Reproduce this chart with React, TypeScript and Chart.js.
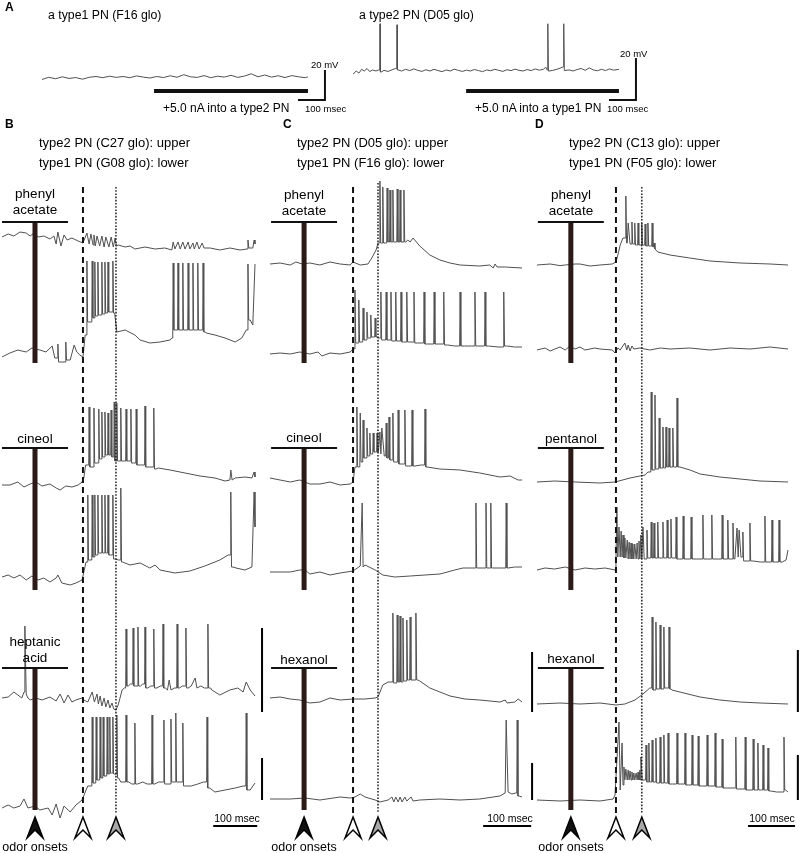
import React, { useEffect, useRef } from "react";
import { Chart, registerables } from "chart.js";

Chart.register(...registerables);

type Pt = [number, number];

// ===== DATA: time (ms from trace start), membrane potential (mV, relative to resting level) =====

// Panel A
const A_TYPE1_F16: Pt[] = [[0,-1],[25,0.5],[50,-0.5],[75,0.8],[100,-0.3],[125,0.3],[150,-0.8],[175,0.5],[200,1],[225,0.2],[250,1.2],[275,0.4],[300,1],[325,0.2],[350,1.4],[375,0.6],[400,0],[425,1],[450,0.3],[475,1.5],[500,0.5],[525,2.2],[550,0.8],[575,0.4],[600,1.6],[625,0.2],[650,1.2],[675,0.6],[700,1.8],[725,0.4],[750,1.3],[775,2.8],[800,0.8],[825,2],[850,0.6],[875,1.5],[900,0.3],[925,1.6],[950,0.8],[975,0.2],[985,0.8]];
const A_TYPE2_D05: Pt[] = [[0,-1.5],[12,0],[22,-1],[32,0.8],[42,0],[52,1.2],[62,-0.3],[72,0.5],[85,0],[95,0.5],[100,22.5],[104,-0.5],[115,0.3],[130,-0.2],[145,0.6],[158,1.2],[163,22],[167,0.5],[180,0],[195,0.8],[210,0.2],[225,1],[240,0.3],[255,-0.2],[270,0.6],[285,0],[300,0.8],[315,0.2],[330,-0.3],[345,0.5],[360,0],[375,0.9],[390,0.3],[405,-0.2],[420,0.4],[435,0],[450,0.7],[465,0.2],[480,-0.3],[495,0.5],[510,0.1],[525,0.8],[540,0.3],[555,-0.2],[570,0.6],[585,0.2],[600,0.9],[615,0.3],[630,0],[645,0.7],[660,0.2],[675,1],[690,0.4],[705,0.8],[714,1.8],[719,0.5],[722,22.5],[726,0],[740,0.3],[755,0.8],[770,1.5],[778,2],[781,22.5],[785,0.2],[800,0.5],[815,0],[830,0.7],[845,1.2],[860,0.3],[875,1.5],[890,0.5],[905,0.1],[920,0.8],[935,0.2],[950,1],[965,0.4],[985,0.8]];
const A_CURRENT_MS: Pt[] = [[415, 985], [419, 985]];

// Panel B: type2 PN (C27) upper, type1 PN (G08) lower
const B_PHENYL_UP: Pt[] = [[0,1.5],[14,3],[27,2],[41,4],[55,3.5],[64,2],[73,3.5],[82,1.5],[95,2],[109,0.5],[118,2],[123,-2],[127,4],[134,-3],[141,2.5],[148,0],[159,1],[173,-0.5],[184,-1.5],[193,3.5],[198,-2],[202,3],[207,-2.5],[209,2.5],[212,-3],[216,2],[222,-3],[227,2],[232,-3.5],[236,1.5],[243,-3.5],[248,1.5],[253,-3.5],[257,1],[260,-3],[264,-2.5],[280,-3.5],[291,-3],[302,-4.5],[325,-3.5],[348,-4.5],[370,-4],[386,-5],[389,-1],[393,-4.5],[400,-1],[405,-4.5],[411,-1],[416,-4.5],[423,-1],[427,-4.5],[434,-1.5],[437,-4.5],[443,-1],[448,-4.5],[455,-1.5],[459,-4],[473,-4],[495,-5],[518,-4],[541,-5],[557,-4.5],[559,0],[561,-4],[570,-4],[573,0],[575,-2]];
const B_PHENYL_LOW: Pt[] = [[0,-3.5],[18,-1.5],[36,0],[55,-1],[68,1],[86,0],[100,-1],[114,2],[120,-4],[127,3],[136,-6],[145,4],[155,-5],[164,2.5],[170,-1],[177,-2.5],[184,-3.5],[189,7.5],[193,44.5],[197,14],[205,44.5],[208,16],[211,44],[214,17],[218,44],[222,17.5],[227,44],[230,18],[234,44],[237,18.5],[241,44],[246,19],[252,44.5],[256,18.5],[261,9],[280,10],[302,7.5],[314,5],[336,3.5],[359,4],[382,5],[386,6],[389,43.5],[394,10],[400,43.5],[405,10],[411,43.5],[417,10],[423,43.5],[428,10],[434,43.5],[440,10],[445,43.5],[451,10],[457,43.5],[462,9],[464,8.5],[484,7.5],[507,6],[530,4],[545,6],[555,10],[559,43],[564,15],[570,12.5],[575,43]];
const B_CINEOL_UP: Pt[] = [[0,0],[18,0],[36,1.5],[50,-1],[64,0.5],[77,1.5],[91,-0.5],[109,0.5],[123,-1.5],[132,-2.5],[145,-0.5],[159,-1],[173,0],[182,1.5],[186,3.5],[190,10],[198,39],[203,9],[209,38.5],[214,11],[220,38],[224,13],[227,36.5],[230,14],[234,36.5],[237,15],[241,36],[244,15],[248,37.5],[251,14],[255,41.5],[258,12],[261,41],[265,12],[270,38.5],[276,12],[282,38],[287,12],[293,38],[299,11],[305,38],[315,10],[325,39.5],[335,9],[345,38.5],[350,8],[355,8.5],[382,7.5],[416,6],[450,4.5],[484,3.5],[507,2],[518,2.5],[520,7.5],[523,2.5],[530,3.5],[552,4],[568,3.5],[573,6.5],[575,4]];
const B_CINEOL_LOW: Pt[] = [[0,0],[14,1],[27,-0.5],[41,1],[55,-1.5],[68,0.5],[82,-1.5],[95,-0.5],[109,-2.5],[123,-0.5],[127,1],[136,-3],[155,-4],[168,-3],[182,-1.5],[186,2.5],[191,7.5],[195,41],[200,8.5],[205,41],[208,10],[211,41],[214,11],[218,41],[222,12],[227,41],[230,12],[234,41],[237,12],[241,41],[246,11],[252,41],[258,9],[265,8.5],[270,44.5],[274,7.5],[291,6],[314,7],[336,4.5],[348,6],[359,3.5],[393,2],[427,3],[461,5.5],[495,8.5],[514,11],[520,42.5],[525,5],[532,4.5],[552,3.5],[568,5],[573,42.5],[575,25]];
const B_HEPTANIC_UP: Pt[] = [[0,0],[14,0.5],[27,3],[36,1.5],[45,0],[50,3],[52,36],[55,2],[59,0],[64,-1],[77,0],[91,-1],[109,0.5],[123,-1.5],[132,2],[141,-2.5],[150,1.5],[159,-2],[168,-1],[182,0],[186,-1],[195,-2],[205,3],[210,-2],[216,2],[219,-3],[223,1],[227,-4],[232,0],[236,-4.5],[241,-1],[245,-5],[250,-2.5],[254,-5.5],[259,-6],[264,-3.5],[273,4],[278,5],[282,34.5],[287,6],[292,7],[298,35],[303,6],[309,35.5],[315,6],[320,7],[325,35.5],[331,5],[338,6],[345,34.5],[352,5],[360,6],[366,37],[371,5],[376,4],[380,9],[384,4],[392,5],[398,37],[403,5],[410,6],[418,35],[423,5],[430,6],[439,10],[443,5],[452,6],[460,5],[468,37],[474,5],[477,4],[495,1.5],[518,4],[536,5],[548,3],[555,8],[564,4],[575,1]];
const B_HEPTANIC_LOW: Pt[] = [[0,-1],[14,0.5],[27,-1],[41,0],[50,3.5],[59,-1],[75,0],[86,-2],[105,-1],[114,-4.5],[123,1],[132,-6],[141,0],[155,-3],[168,0.5],[182,3],[191,8],[195,10],[205,44.5],[209,11.5],[214,44.5],[218,13],[223,44.5],[226,14],[230,44.5],[234,15],[239,44.5],[242,16],[245,44.5],[249,16.5],[252,44.5],[256,16],[261,45.5],[265,14],[270,12],[282,45.5],[288,12],[295,11],[302,41.5],[308,11],[320,12],[330,11],[341,45.5],[347,11],[356,12],[368,43],[374,11],[384,43.5],[388,12],[395,46.5],[400,12],[411,41.5],[417,10],[430,10],[445,11],[458,12],[466,44.5],[472,9],[484,7],[507,8],[530,9],[548,10],[555,46.5],[560,8],[564,8],[575,11.5]];

// Panel C: type2 PN (D05) upper, type1 PN (F16) lower
const C_PHENYL_UP: Pt[] = [[0,0],[21,0.5],[42,-0.5],[54,1],[67,0],[83,0.5],[104,-0.5],[125,1],[146,0],[167,-0.5],[173,1],[188,-0.5],[204,0],[212,3],[221,7],[225,10.5],[229,41.5],[232,10.5],[235,38.5],[240,10.5],[244,38],[247,11],[250,37],[253,11],[256,37],[260,11],[265,37.5],[268,11],[271,37],[275,11],[279,37],[283,11],[287,12],[292,11],[298,13],[312,9],[333,4.5],[354,2],[375,0.5],[396,-0.5],[437,-1],[458,-0.5],[465,-2],[469,0],[473,-1.5],[490,-1.5],[525,-2]];
const C_PHENYL_LOW: Pt[] = [[0,-1],[21,-0.5],[42,-1],[62,0],[83,-1],[100,0],[108,-2],[125,-0.5],[146,-1],[167,0],[173,1.5],[177,31],[181,4.5],[185,26],[190,5],[194,22],[198,6],[202,20],[206,7],[210,18.5],[215,7.5],[219,17],[223,7.5],[227,7],[231,30],[236,6],[242,30],[246,6],[252,30],[256,5.5],[262,30],[267,5.5],[273,30],[278,5],[285,30],[291,5],[300,30],[308,4.5],[321,30],[328,4],[342,30],[350,4],[362,30],[370,3.5],[385,3],[396,30],[405,3],[420,3],[427,30],[433,3],[448,30],[455,3],[475,2.5],[487,30],[493,3],[510,2.5],[525,2.5]];
const C_CINEOL_UP: Pt[] = [[0,1],[21,0],[42,-1],[62,0],[83,-2],[104,-2],[125,-1],[146,-2.5],[167,-2],[173,-1],[177,6.5],[181,36.5],[184,6.5],[188,33.5],[191,9],[194,30],[198,11],[202,26],[205,12],[208,23.5],[211,13],[215,23.5],[219,14],[223,23.5],[226,14],[229,24],[231,13],[233,26],[238,12],[242,28.5],[245,11],[248,31.5],[252,10],[256,33.5],[261,9],[267,35],[274,8],[281,35],[288,7],[296,35],[302,7],[315,7.5],[323,35.5],[327,6.5],[354,5.5],[396,5],[437,3.5],[479,1.5],[500,2],[517,0],[525,0]];
const C_CINEOL_LOW: Pt[] = [[0,0],[42,0],[62,1],[73,1],[83,-1],[104,0],[125,-1.5],[146,-0.5],[173,0.5],[179,1.5],[188,3],[192,34.5],[194,2.5],[198,3.5],[219,1],[235,-1.5],[260,-2.5],[292,-2],[323,-1.5],[354,-1],[385,1],[402,2],[425,2],[429,34.5],[433,2],[446,2],[450,34.5],[454,2],[460,34.5],[464,2],[480,2],[492,34.5],[496,2],[510,2.5],[525,2.5]];
const C_HEXANOL_UP: Pt[] = [[0,1],[21,1.5],[42,0.5],[62,0],[83,-1.5],[104,-1],[125,1],[146,0],[173,0.5],[198,0.5],[219,1],[225,1.5],[235,7.5],[246,9],[256,43.5],[260,8.5],[265,42.5],[268,9],[271,42],[274,9],[277,41],[281,9.5],[285,40],[288,10],[292,41.5],[298,10],[304,43.5],[308,10],[312,9.5],[333,6],[354,4],[375,2],[406,0.5],[437,0],[479,-1],[490,0],[494,-1.5],[510,-1],[517,0.5],[525,-1]];
const C_HEXANOL_LOW: Pt[] = [[0,0],[42,0],[73,0.5],[104,-0.5],[146,1],[167,0.5],[177,1],[188,2.5],[198,1],[219,-0.5],[229,-1.5],[246,-0.5],[254,1],[258,-1.5],[262,1],[267,-1.5],[271,1],[275,-1.5],[281,1],[285,-1],[294,1],[298,-1],[312,-0.5],[354,0],[396,-0.5],[437,0],[479,1.5],[490,3],[492,39.5],[496,3.5],[504,2.5],[512,3],[515,39.5],[519,1.5],[525,1]];

// Panel D: type2 PN (C13) upper, type1 PN (F05) lower
const D_PHENYL_UP: Pt[] = [[0,0],[28,0.5],[49,-0.3],[60,0],[81,0.5],[91.5,0.5],[113,-0.5],[134,0],[160,0.5],[168,1.5],[172,5],[177,10],[183,13.5],[189,34.5],[192,11],[194,21],[198,10.5],[202,21.5],[205,10.5],[208,21],[212,10],[215,21],[219,10],[223,21],[227,10],[230,20.5],[233,9.5],[236,21],[241,9.5],[245,21],[248,9],[249,11],[251,8],[257,6.5],[283,5],[325,3.5],[368,2],[432,1],[496,0.5],[534,0]];
const D_PHENYL_LOW: Pt[] = [[0,-0.5],[17,0.5],[28,-1],[38,0],[49,1],[60,-0.5],[70,1.5],[81,0],[91.5,1],[102,-0.5],[123,0.5],[134,0],[160,-0.5],[166,-2],[172,0.5],[177,-0.5],[187,3],[191,-0.5],[194,2],[198,-1],[202,1.5],[206,0],[219,0.5],[240,-0.5],[262,0.5],[283,0],[325,0.5],[368,-0.5],[411,0.5],[453,0],[496,1],[534,0]];
const D_PENTANOL_UP: Pt[] = [[0,0],[38,0.5],[81,0],[134,-0.5],[166,0],[198,2],[219,3],[230,3.5],[236,5],[243,45],[247,6],[251,43.5],[255,6.5],[260,32],[264,7],[268,27.5],[271,7],[274.5,27.5],[278,7.5],[281,27],[285,7.5],[289,27],[293,7.5],[298,42],[302,7.5],[304,7.5],[325.5,6],[347,4],[389,2.5],[432,1.5],[474.5,0.5],[534,0]];
const D_PENTANOL_LOW: Pt[] = [[0,-0.5],[17,0.5],[38,0],[60,1],[81,-0.5],[102,0.5],[123,0],[145,0.5],[166,-0.5],[168,4.5],[170,31],[172,6],[174.5,21],[177,6],[179,19],[181,6],[183,17],[185,5.5],[187,15.5],[189,5.5],[192,14.5],[194,5],[196,13.5],[198,5],[200,13],[202,5],[204,12.5],[206,5],[208,12.5],[211,5],[213,13],[215,5],[217,14],[219,5],[221,17],[223,5],[225.5,21],[228,5],[234,19.5],[238,5.5],[243,23.5],[246,5.5],[249,23],[253,5.5],[257,23.5],[262,5.5],[268,23.5],[272,5.5],[277,24.5],[281,5.5],[285,25],[290,5.5],[296,26],[303,5],[311,26.5],[319,5],[328,26],[340,5],[353,27],[362,5],[372,27],[383,5],[394,27],[400,5],[406,24.5],[411,5],[417,23],[421,5],[425.5,20.5],[428,6],[430,19.5],[434,6],[438,18.5],[445,4],[453,23],[460,4],[475,3.5],[485,26.5],[492,3.5],[500,24.5],[507,3.5],[515,24.5],[522,3.5],[530,4.5],[534,9.5]];
const D_HEXANOL_UP: Pt[] = [[0,0],[49,0.5],[91.5,0],[134,0.5],[168,-0.5],[187,0],[208.5,2],[223,4.5],[240,8],[245,43.5],[249,7],[253,41],[257,7.5],[262,39.5],[266,7.5],[270,38.5],[275,8],[281,38.5],[285,7.5],[287,7],[304,6],[347,3.5],[389,2],[432,1],[474.5,0.5],[534,0]];
const D_HEXANOL_LOW: Pt[] = [[0,0],[49,-0.5],[91.5,0],[134,-0.5],[162,0.5],[166,2.5],[174.5,39],[177,5],[181,28.5],[183,7.5],[185,16.5],[187,10],[189,15.5],[192,10],[194,15],[196,10],[198,14.5],[200,10],[202,14],[204,10],[206,13.5],[208,10],[211,13.5],[213,10],[215,14],[217,10],[219,15],[220,10],[221,21.5],[224,10],[228,10],[232,27.5],[235,9],[238,28.5],[241,9],[245,30],[249,9],[253,31],[257,8.5],[262,31.5],[266,8.5],[270,32.5],[274,8.5],[279,33.5],[288,8],[298,33.5],[306,8],[315,33.5],[322,7.5],[330,32.5],[336,7.5],[343,32],[352,7],[362,32.5],[370,7],[379,33.5],[386,6.5],[394,30.5],[405,6],[415,6],[423,31.5],[432,5.5],[443,31.5],[451,5],[460,30.5],[465,5],[470,28.5],[475,5],[481,27.5],[486,5],[491.5,26],[497,4.5],[510,4],[520,4],[525.5,31.5],[529,5],[534,4]];

// Stimulus timing (ms): odor onset, type2 response onset (dashed), type1 response onset (dotted)
const ODOR_ONSET_MS = [75, 71, 72];
const TYPE2_ONSET_MS = [184, 173, 168];
const TYPE1_ONSET_MS = [259, 225, 223];
const SCALE_MS = 100;
const SCALE_MV_A = 20;
// scale bars of panels B-D, in mV of the bottom-row traces [upper from,to],[lower from,to]
const SCALE_BAR_MV: [Pt, Pt][] = [[[-7, 35], [3, 24]], [[-6, 24], [-0.5, 18]], [[-4, 27], [0, 22.5]]];
const SCALE_BAR_TIME_MS = [591, 546, 555];
const MSEC_BAR_START_MS = [480, 444, 449];

const PANEL_LETTERS = ["A", "B", "C", "D"];
const HEADINGS = [
  ["type2 PN (C27 glo): upper", "type1 PN (G08 glo): lower"],
  ["type2 PN (D05 glo): upper", "type1 PN (F16 glo): lower"],
  ["type2 PN (C13 glo): upper", "type1 PN (F05 glo): lower"],
];
const ODOR_NAMES = [
  ["phenyl\nacetate", "cineol", "heptanic\nacid"],
  ["phenyl\nacetate", "cineol", "hexanol"],
  ["phenyl\nacetate", "pentanol", "hexanol"],
];

// ===== LAYOUT =====
const W = 800, H = 853;
const X_AXES: Record<string, { x0: number; ppm: number }> = {
  xA1: { x0: 42, ppm: 0.27 },
  xA2: { x0: 353, ppm: 0.27 },
  xB: { x0: 2, ppm: 0.44 },
  xC: { x0: 270, ppm: 0.48 },
  xD: { x0: 537, ppm: 0.47 },
};
const PANEL_X = ["xB", "xC", "xD"];
const TRACES = [
  { id: "A1", data: A_TYPE1_F16, x: "xA1", yb: 78, g: 1.5 },
  { id: "A2", data: A_TYPE2_D05, x: "xA2", yb: 71, g: 2.1 },
  { id: "B1", data: B_PHENYL_UP, x: "xB", yb: 240, g: 2 },
  { id: "B2", data: B_PHENYL_LOW, x: "xB", yb: 350, g: 2 },
  { id: "B3", data: B_CINEOL_UP, x: "xB", yb: 485, g: 2 },
  { id: "B4", data: B_CINEOL_LOW, x: "xB", yb: 577, g: 2 },
  { id: "B5", data: B_HEPTANIC_UP, x: "xB", yb: 698, g: 2 },
  { id: "B6", data: B_HEPTANIC_LOW, x: "xB", yb: 806, g: 2 },
  { id: "C1", data: C_PHENYL_UP, x: "xC", yb: 264, g: 2 },
  { id: "C2", data: C_PHENYL_LOW, x: "xC", yb: 352, g: 2 },
  { id: "C3", data: C_CINEOL_UP, x: "xC", yb: 480, g: 2 },
  { id: "C4", data: C_CINEOL_LOW, x: "xC", yb: 572, g: 2 },
  { id: "C5", data: C_HEXANOL_UP, x: "xC", yb: 700, g: 2 },
  { id: "C6", data: C_HEXANOL_LOW, x: "xC", yb: 799, g: 2 },
  { id: "D1", data: D_PHENYL_UP, x: "xD", yb: 265, g: 2 },
  { id: "D2", data: D_PHENYL_LOW, x: "xD", yb: 349, g: 2 },
  { id: "D3", data: D_PENTANOL_UP, x: "xD", yb: 482, g: 2 },
  { id: "D4", data: D_PENTANOL_LOW, x: "xD", yb: 569, g: 2 },
  { id: "D5", data: D_HEXANOL_UP, x: "xD", yb: 704, g: 2 },
  { id: "D6", data: D_HEXANOL_LOW, x: "xD", yb: 800, g: 2 },
];
const ROWS = [
  { lineY: 222, barBottom: 363 },
  { lineY: 448, barBottom: 590 },
  { lineY: 668, barBottom: 810 },
];
const GUIDE_TOP = [[187, 187], [187, 183], [187, 187]];
const GUIDE_BOTTOM = 813;
const ARROW_TIP = 817;
const A_CURRENT_Y = 91;
const A_SCALE_BOTTOM = 100;
const MSEC_BAR_Y = 826;
// spike drawing: rise/fall duration (ms) of an action potential
const SPIKE_RISE_MS = 0.9;
const SPIKE_FALL_MS = 1.6;
const SPIKE_MIN_GAP_MS = 3;

const FONT = '"Liberation Sans", Arial, Helvetica, sans-serif';

type TextItem = { t: string; x: number; y: number; s: number; b?: boolean; c?: boolean; lh?: number };
const TEXTS: TextItem[] = [
  { t: PANEL_LETTERS[0], x: 5, y: 7, s: 12, b: true },
  { t: "a type1 PN (F16 glo)", x: 48, y: 15, s: 12.3 },
  { t: "a type2 PN (D05 glo)", x: 359, y: 15, s: 12.3 },
  { t: "20 mV", x: 311, y: 64, s: 9.5 },
  { t: "20 mV", x: 620, y: 53, s: 9.5 },
  { t: "+5.0 nA into a type2 PN", x: 163, y: 108, s: 12 },
  { t: "100 msec", x: 305, y: 108, s: 9.5 },
  { t: "+5.0 nA into a type1 PN", x: 475, y: 108, s: 12 },
  { t: "100 msec", x: 607, y: 108, s: 9.5 },
];
const LETTER_X = [5, 283, 535];
const HEAD_X = [39, 297, 569];
const BAR_X = [35, 304, 571];
const MSEC_TEXT_X = [237, 510, 772];
const ODOR_LABEL_Y = [[202, 439, 650], [203, 438, 660], [203, 439, 659]];
for (let p = 0; p < 3; p++) {
  TEXTS.push({ t: PANEL_LETTERS[p + 1], x: LETTER_X[p], y: 124, s: 12, b: true });
  TEXTS.push({ t: HEADINGS[p][0], x: HEAD_X[p], y: 143, s: 13 });
  TEXTS.push({ t: HEADINGS[p][1], x: HEAD_X[p], y: 163, s: 13 });
  for (let r = 0; r < 3; r++) {
    TEXTS.push({ t: ODOR_NAMES[p][r], x: BAR_X[p], y: ODOR_LABEL_Y[p][r], s: 13.5, c: true, lh: 16 });
  }
  TEXTS.push({ t: "odor onsets", x: BAR_X[p], y: 847, s: 12.5, c: true });
  TEXTS.push({ t: "100 msec", x: MSEC_TEXT_X[p], y: 818, s: 10.5, c: true });
}

// Builds line points; an isolated sample that stands well above both neighbours is a
// spike and is drawn with a brief rise and fall from its neighbours' levels.
function toPoints(data: Pt[]) {
  const out: { x: number; y: number }[] = [];
  for (let i = 0; i < data.length; i++) {
    const [t, v] = data[i];
    const prev = data[i - 1];
    const next = data[i + 1];
    const isSpike =
      prev && next && v - Math.max(prev[1], next[1]) > 6 &&
      t - prev[0] >= SPIKE_MIN_GAP_MS && next[0] - t >= SPIKE_MIN_GAP_MS;
    if (isSpike) {
      out.push({ x: t - SPIKE_RISE_MS, y: prev[1] });
      out.push({ x: t, y: v });
      out.push({ x: t + SPIKE_FALL_MS, y: next[1] });
    } else {
      out.push({ x: t, y: v });
    }
  }
  return out;
}

function arrow(ctx: CanvasRenderingContext2D, x: number, tip: number, fill: string) {
  ctx.beginPath();
  ctx.moveTo(x, tip);
  ctx.lineTo(x + 8, tip + 21);
  ctx.lineTo(x, tip + 13);
  ctx.lineTo(x - 8, tip + 21);
  ctx.closePath();
  ctx.fillStyle = fill;
  ctx.fill();
  ctx.lineWidth = 1.5;
  ctx.strokeStyle = "#000";
  ctx.lineJoin = "miter";
  ctx.stroke();
}

const decorPlugin = {
  id: "decor",
  afterDatasetsDraw(chart: any) {
    const ctx: CanvasRenderingContext2D = chart.ctx;
    const S = chart.scales;
    ctx.save();
    ctx.lineCap = "butt";
    // Panel A: current bars and scale bars
    ["A1", "A2"].forEach((id, i) => {
      const xs = S["xA" + (i + 1)];
      const ys = S["y" + id];
      const x1 = xs.getPixelForValue(A_CURRENT_MS[i][0]);
      const x2 = xs.getPixelForValue(A_CURRENT_MS[i][1]);
      ctx.fillStyle = "#111";
      ctx.fillRect(x1, A_CURRENT_Y - 2, x2 - x1, 4);
      const tEnd = A_CURRENT_MS[i][1] - 37 + SCALE_MS;
      const sx1 = xs.getPixelForValue(tEnd - SCALE_MS);
      const sx2 = xs.getPixelForValue(tEnd);
      const v0 = ys.getValueForPixel(A_SCALE_BOTTOM);
      const top = ys.getPixelForValue(v0 + SCALE_MV_A);
      ctx.strokeStyle = "#111";
      ctx.lineWidth = 2;
      ctx.beginPath();
      ctx.moveTo(sx1, A_SCALE_BOTTOM);
      ctx.lineTo(sx2, A_SCALE_BOTTOM);
      ctx.lineTo(sx2, top);
      ctx.stroke();
    });
    // Panels B-D
    PANEL_X.forEach((xid, p) => {
      const xs = S[xid];
      const xo = xs.getPixelForValue(ODOR_ONSET_MS[p]);
      ROWS.forEach((row) => {
        ctx.fillStyle = "#2a1a18";
        ctx.fillRect(xo - 2.5, row.lineY, 5, row.barBottom - row.lineY);
        ctx.fillStyle = "#111";
        ctx.fillRect(xo - 33, row.lineY - 1, 66, 2);
      });
      const xd = xs.getPixelForValue(TYPE2_ONSET_MS[p]);
      const xt = xs.getPixelForValue(TYPE1_ONSET_MS[p]);
      ctx.strokeStyle = "#111";
      ctx.lineWidth = 2;
      ctx.setLineDash([6, 4]);
      ctx.beginPath();
      ctx.moveTo(xd, GUIDE_TOP[p][0]);
      ctx.lineTo(xd, GUIDE_BOTTOM);
      ctx.stroke();
      ctx.lineWidth = 1.4;
      ctx.setLineDash([1.6, 1.6]);
      ctx.beginPath();
      ctx.moveTo(xt, GUIDE_TOP[p][1]);
      ctx.lineTo(xt, GUIDE_BOTTOM);
      ctx.stroke();
      ctx.setLineDash([]);
      arrow(ctx, xo, ARROW_TIP, "#111");
      arrow(ctx, xd, ARROW_TIP, "#fff");
      arrow(ctx, xt, ARROW_TIP, "#a8a8a8");
      // scale bars
      const pl = "BCD"[p];
      const sxp = xs.getPixelForValue(SCALE_BAR_TIME_MS[p]);
      const yu = S["y" + pl + "5"], yl = S["y" + pl + "6"];
      ctx.lineWidth = 2;
      ctx.beginPath();
      ctx.moveTo(sxp, yu.getPixelForValue(SCALE_BAR_MV[p][0][0]));
      ctx.lineTo(sxp, yu.getPixelForValue(SCALE_BAR_MV[p][0][1]));
      ctx.moveTo(sxp, yl.getPixelForValue(SCALE_BAR_MV[p][1][0]));
      ctx.lineTo(sxp, yl.getPixelForValue(SCALE_BAR_MV[p][1][1]));
      ctx.stroke();
      const m1 = xs.getPixelForValue(MSEC_BAR_START_MS[p]);
      const m2 = xs.getPixelForValue(MSEC_BAR_START_MS[p] + SCALE_MS);
      ctx.beginPath();
      ctx.moveTo(m1, MSEC_BAR_Y);
      ctx.lineTo(m2, MSEC_BAR_Y);
      ctx.stroke();
    });
    ctx.restore();
  },
};

export default function App() {
  const ref = useRef<HTMLCanvasElement | null>(null);
  useEffect(() => {
    if (!ref.current) return;
    const scales: any = {};
    Object.keys(X_AXES).forEach((id) => {
      const a = X_AXES[id];
      scales[id] = { type: "linear", axis: "x", display: false, min: -a.x0 / a.ppm, max: (W - a.x0) / a.ppm };
    });
    TRACES.forEach((tr) => {
      scales["y" + tr.id] = { type: "linear", axis: "y", display: false, min: -(H - tr.yb) / tr.g, max: tr.yb / tr.g };
    });
    const chart = new Chart(ref.current, {
      type: "line",
      data: {
        datasets: TRACES.map((tr) => ({
          label: tr.id,
          data: toPoints(tr.data),
          xAxisID: tr.x,
          yAxisID: "y" + tr.id,
          borderColor: "#505050",
          borderWidth: 1,
          pointRadius: 0,
          tension: 0,
          fill: false,
          borderJoinStyle: "round",
        })),
      },
      options: {
        responsive: false,
        animation: false,
        devicePixelRatio: 1,
        events: [],
        layout: { padding: 0 },
        plugins: { legend: { display: false }, tooltip: { enabled: false }, title: { display: false } },
        scales,
      } as any,
      plugins: [decorPlugin],
    });
    return () => chart.destroy();
  }, []);

  return (
    <div style={{ position: "fixed", left: 0, top: 0, width: W, height: H, background: "#fff", overflow: "hidden" }}>
      <canvas ref={ref} width={W} height={H} style={{ display: "block", position: "absolute", left: 0, top: 0 }} />
      {TEXTS.map((t, i) => (
        <div
          key={i}
          style={{
            position: "absolute",
            left: t.x,
            top: t.y,
            transform: t.c ? "translate(-50%, -50%)" : "translateY(-50%)",
            fontFamily: FONT,
            fontSize: t.s,
            fontWeight: t.b ? 700 : 400,
            lineHeight: (t.lh || Math.round(t.s * 1.2)) + "px",
            whiteSpace: "pre",
            textAlign: "center",
            color: "#000",
          }}
        >
          {t.t}
        </div>
      ))}
    </div>
  );
}
